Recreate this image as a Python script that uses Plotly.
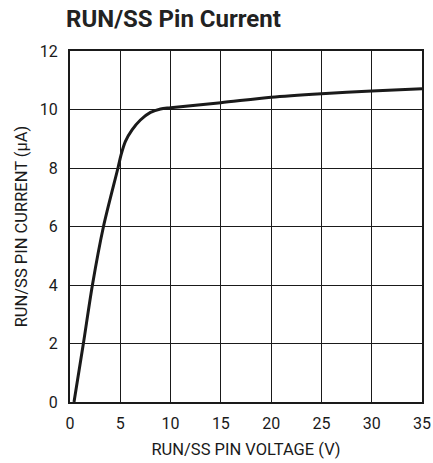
import plotly.graph_objects as go

voltage = [0.4, 1.33, 2.23, 3.33, 4.77, 5.07, 5.5, 6.17, 7.0, 8.0, 9.0, 10, 15, 20, 25, 30, 35]
current = [0, 2, 4, 6, 8, 8.44, 8.9, 9.3, 9.64, 9.9, 10.02, 10.06, 10.23, 10.42, 10.54, 10.63, 10.71]

x_ticks = [0, 5, 10, 15, 20, 25, 30, 35]
y_ticks = [0, 2, 4, 6, 8, 10, 12]

title_text = "RUN/SS Pin Current"
x_title = "RUN/SS PIN VOLTAGE (V)"
y_title = "RUN/SS PIN CURRENT (μA)"

FONT = "Roboto, sans-serif"

fig = go.Figure()
fig.add_trace(go.Scatter(
    x=voltage, y=current, mode="lines",
    line=dict(color="#1a1a1a", width=3, shape="spline", smoothing=0.8),
    showlegend=False, hoverinfo="skip",
))

fig.update_layout(
    width=433, height=463,
    margin=dict(l=70, r=11, t=51, b=61),
    paper_bgcolor="white", plot_bgcolor="white",
    title=dict(text="<b>" + title_text + "</b>", x=66/433, xanchor="left",
               y=1 - 19/463, yanchor="middle",
               font=dict(family=FONT, size=24, color="#222")),
    font=dict(family=FONT, color="#1a1a1a"),
)
fig.update_xaxes(
    range=[0, 35], tickvals=x_ticks, ticktext=[str(v) for v in x_ticks],
    showgrid=True, gridcolor="#1a1a1a", gridwidth=1,
    showline=True, linecolor="#1a1a1a", linewidth=2, mirror=True,
    zeroline=False, ticks="", tickfont=dict(size=16), automargin=False,
    ticklabelstandoff=6,
    title=dict(text=x_title, font=dict(size=16.5), standoff=11),
)
fig.update_yaxes(
    range=[0, 12], tickvals=y_ticks, ticktext=[str(v) for v in y_ticks],
    showgrid=True, gridcolor="#1a1a1a", gridwidth=1,
    showline=True, linecolor="#1a1a1a", linewidth=2, mirror=True,
    zeroline=False, ticks="", tickfont=dict(size=16), automargin=False,
    ticklabelstandoff=7,
    title=dict(text=y_title, font=dict(size=16.5), standoff=8),
)

fig.write_html("out.html", config={"displayModeBar": False},
               post_script="document.body.style.margin='0';")
